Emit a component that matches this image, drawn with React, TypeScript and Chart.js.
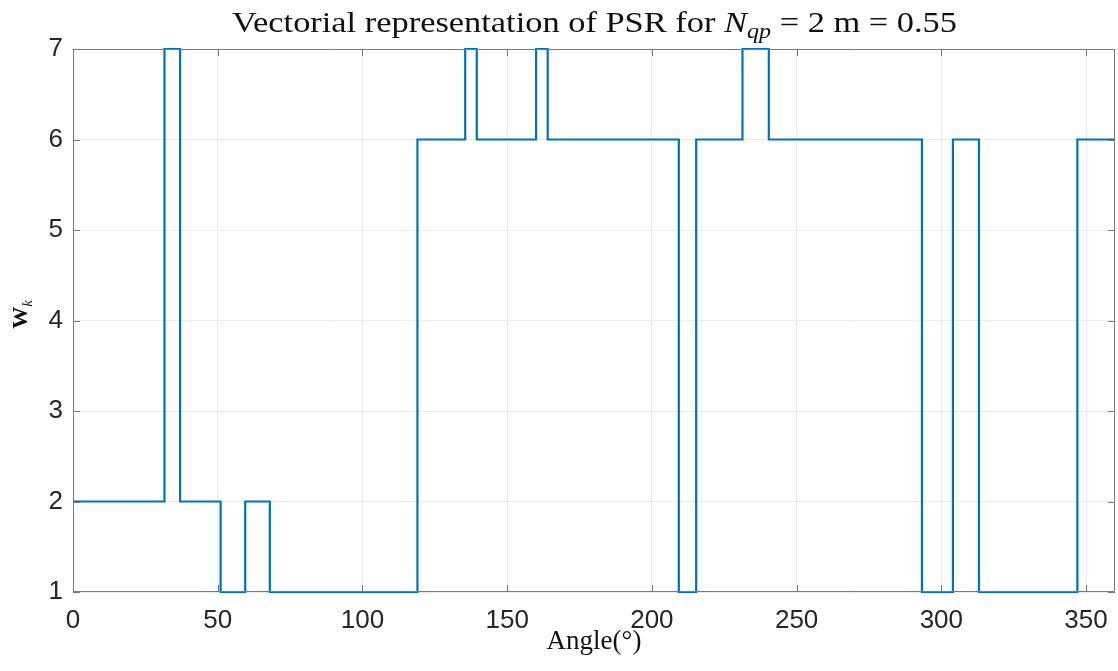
import React, { useEffect, useRef } from "react";
import { Chart, registerables } from "chart.js";

Chart.register(...registerables);

// Step transitions (angle in degrees where a new W_k level begins) and the levels
const angleBreaks = [0, 31.6, 37, 51, 59.5, 68, 119, 135.5, 139.5, 160, 164, 209.3, 215.3, 231.3, 240.4, 293.3, 304, 313, 347, 360];
const wkLevels = [2, 7, 2, 1, 2, 1, 6, 7, 6, 7, 6, 1, 6, 7, 6, 1, 6, 1, 6, 6];

const xTickValues = [0, 50, 100, 150, 200, 250, 300, 350];
const yTickValues = [1, 2, 3, 4, 5, 6, 7];

const titleParts = {
  before: "Vectorial representation of PSR for ",
  symbol: "N",
  sub: "qp",
  after: " = 2 m = 0.55",
};
const xAxisTitle = "Angle(°)";
const yLabelMain = "W";
const yLabelSub = "k";

const AXIS_COLOR = "#7a7a7a";
const TEXT_COLOR = "#262626";
const SERIF = '"Liberation Serif", "DejaVu Serif", serif';
const SANS = '"Liberation Sans", Arial, sans-serif';

const decorPlugin = {
  id: "decor",
  afterDraw(chart: any) {
    const { ctx, chartArea } = chart;
    const { left, right, top, bottom } = chartArea;
    const xs = chart.scales.x;
    const ys = chart.scales.y;
    ctx.save();
    // box
    ctx.strokeStyle = AXIS_COLOR;
    ctx.lineWidth = 1;
    ctx.beginPath();
    ctx.moveTo(left + 0.5, top + 0.5);
    ctx.lineTo(right - 0.5, top + 0.5);
    ctx.lineTo(right - 0.5, bottom - 0.5);
    ctx.lineTo(left + 0.5, bottom - 0.5);
    ctx.closePath();
    ctx.stroke();
    // inward ticks
    const tl = 7;
    ctx.beginPath();
    xTickValues.forEach((v) => {
      const px = Math.round(xs.getPixelForValue(v)) + 0.5;
      ctx.moveTo(px, bottom);
      ctx.lineTo(px, bottom - tl);
      ctx.moveTo(px, top);
      ctx.lineTo(px, top + tl);
    });
    yTickValues.forEach((v) => {
      const py = Math.round(ys.getPixelForValue(v)) + 0.5;
      ctx.moveTo(left, py);
      ctx.lineTo(left + tl, py);
      ctx.moveTo(right, py);
      ctx.lineTo(right - tl, py);
    });
    ctx.stroke();

    // title
    const bigRoman = `30px ${SERIF}`;
    const bigItalic = `italic 30px ${SERIF}`;
    const subItalic = `italic 21px ${SERIF}`;
    ctx.fillStyle = "#111";
    ctx.textBaseline = "alphabetic";
    ctx.textAlign = "left";
    ctx.font = bigRoman;
    const w1 = ctx.measureText(titleParts.before).width;
    const w4 = ctx.measureText(titleParts.after).width;
    ctx.font = bigItalic;
    const w2 = ctx.measureText(titleParts.symbol).width;
    ctx.font = subItalic;
    const w3 = ctx.measureText(titleParts.sub).width;
    const total = w1 + w2 + w3 + w4;
    const targetW = 725;
    const sx = targetW / total;
    const cx = 594.5;
    ctx.save();
    ctx.translate(cx - targetW / 2, 32);
    ctx.scale(sx, 1);
    let x = 0;
    ctx.font = bigRoman;
    ctx.fillText(titleParts.before, x, 0);
    x += w1;
    ctx.font = bigItalic;
    ctx.fillText(titleParts.symbol, x, 0);
    x += w2;
    ctx.font = subItalic;
    ctx.fillText(titleParts.sub, x, 6);
    x += w3;
    ctx.font = bigRoman;
    ctx.fillText(titleParts.after, x, 0);
    ctx.restore();

    // y label
    ctx.save();
    ctx.translate(27, (top + bottom) / 2 - 6);
    ctx.rotate(-Math.PI / 2);
    ctx.font = `bold 22px ${SERIF}`;
    const wW = ctx.measureText(yLabelMain).width;
    ctx.font = `italic 15px ${SERIF}`;
    const wk = ctx.measureText(yLabelSub).width;
    const tot = wW + wk;
    ctx.font = `bold 22px ${SERIF}`;
    ctx.fillText(yLabelMain, -tot / 2, 0);
    ctx.font = `italic 15px ${SERIF}`;
    ctx.fillText(yLabelSub, -tot / 2 + wW, 5);
    ctx.restore();

    ctx.restore();
  },
};

export default function App() {
  const canvasRef = useRef<HTMLCanvasElement | null>(null);

  useEffect(() => {
    if (!canvasRef.current) return;
    const points = angleBreaks.map((a, i) => ({ x: a, y: wkLevels[i] }));
    const chart = new Chart(canvasRef.current, {
      type: "line",
      data: {
        datasets: [
          {
            data: points,
            stepped: "before",
            borderColor: "#0072BD",
            borderWidth: 2.2,
            pointRadius: 0,
            fill: false,
            clip: 4,
          },
        ],
      },
      options: {
        animation: false,
        responsive: false,
        maintainAspectRatio: false,
        layout: { padding: { top: 49, right: 0, left: 0, bottom: 0 } },
        plugins: {
          legend: { display: false },
          tooltip: { enabled: false },
          title: { display: false },
        },
        scales: {
          x: {
            type: "linear",
            min: 0,
            max: 360,
            afterBuildTicks: (scale: any) => {
              scale.ticks = xTickValues.map((v) => ({ value: v }));
            },
            afterFit: (scale: any) => {
              scale.height = 79;
              scale.paddingRight = 3;
            },
            ticks: {
              color: TEXT_COLOR,
              font: { family: SANS, size: 26 },
              padding: 13,
              maxRotation: 0,
              autoSkip: false,
            },
            grid: { color: "#ebebeb", drawTicks: false, lineWidth: 1 },
            border: { display: false },
            title: {
              display: true,
              text: xAxisTitle,
              color: "#111",
              font: { family: SERIF, size: 27 },
              padding: { top: 0, bottom: 13 },
            },
          },
          y: {
            type: "linear",
            min: 1,
            max: 7,
            afterBuildTicks: (scale: any) => {
              scale.ticks = yTickValues.map((v) => ({ value: v }));
            },
            afterFit: (scale: any) => {
              scale.width = 73;
            },
            ticks: {
              color: TEXT_COLOR,
              font: { family: SANS, size: 26 },
              padding: 10,
            },
            grid: { color: "#ebebeb", drawTicks: false, lineWidth: 1 },
            border: { display: false },
          },
        },
      },
      plugins: [decorPlugin],
    });
    return () => chart.destroy();
  }, []);

  return (
    <div style={{ position: "fixed", left: 0, top: 0, width: 1118, height: 671, background: "#fff" }}>
      <canvas ref={canvasRef} width={1118} height={671} style={{ width: 1118, height: 671 }} />
    </div>
  );
}
